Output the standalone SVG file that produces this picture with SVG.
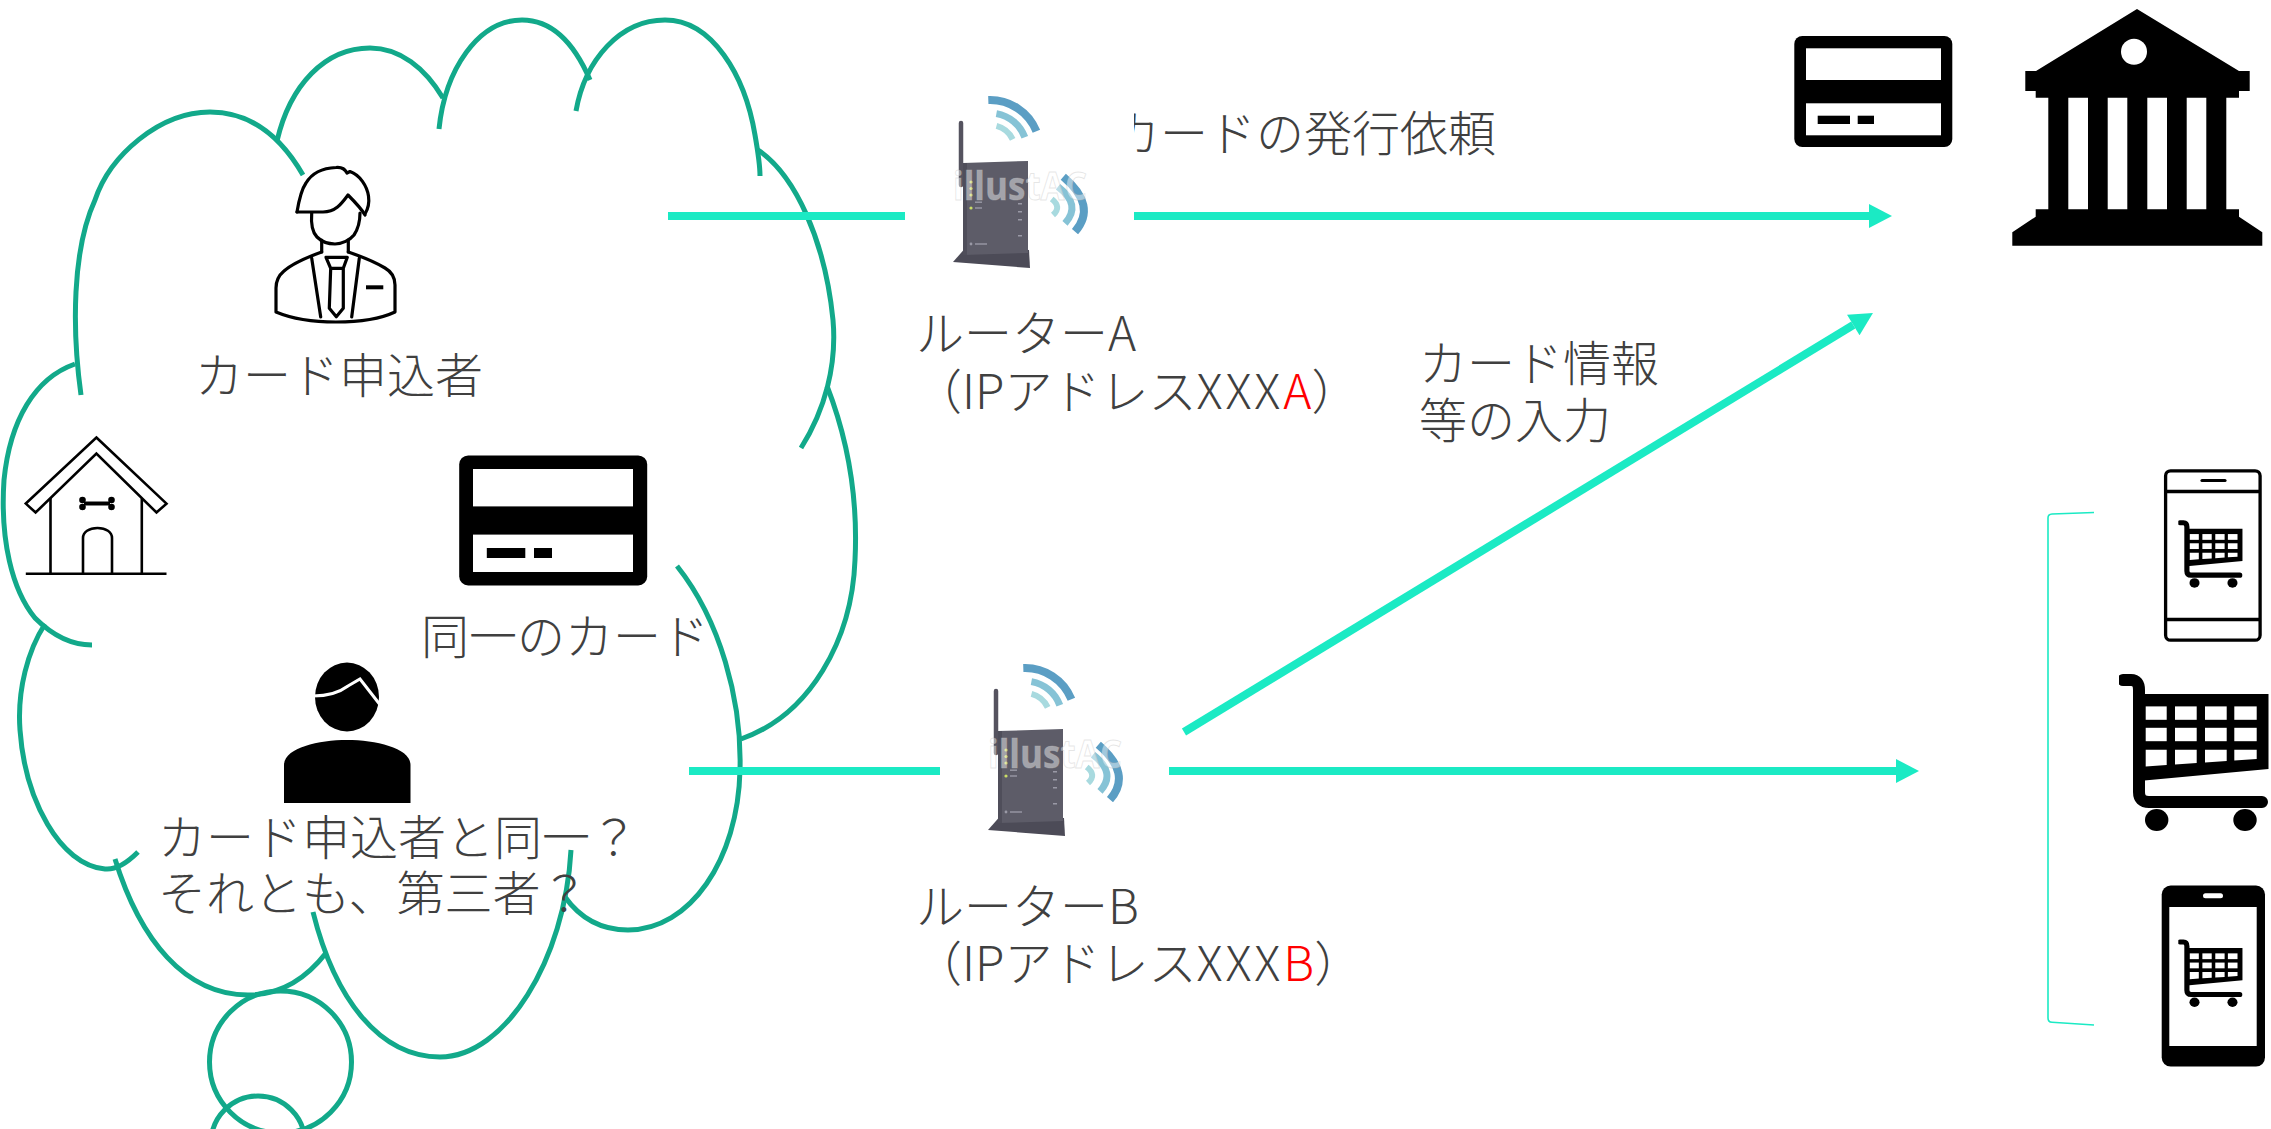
<svg xmlns="http://www.w3.org/2000/svg" xmlns:xlink="http://www.w3.org/1999/xlink" width="2271" height="1129" viewBox="0 0 2271 1129">
  <style>
    .cloud{fill:none;stroke:#12A98A;stroke-width:5}
    .link{fill:none;stroke:#1BEAC4;stroke-width:8}
    .lbl{font-family:'Noto Sans CJK JP','Noto Sans',sans-serif;font-size:48px;font-weight:300;fill:#404040}
    .lat{letter-spacing:3px}
    .red{fill:#FF0000}
    .ico{fill:none;stroke:#000;stroke-width:3.2;stroke-linejoin:round;stroke-linecap:round}
    .wm{font-family:'Open Sans','Noto Sans',sans-serif;font-size:40px;font-weight:700;fill:#ffffff;fill-opacity:.45;stroke:#b8b8b8;stroke-opacity:.35;stroke-width:1}
  </style>
  <defs>
    <marker id="head" markerUnits="userSpaceOnUse" markerWidth="24" markerHeight="24" viewBox="0 0 23 24" refX="0" refY="12" orient="auto">
      <path d="M0,0 L23,12 L0,24 Z" fill="#1BEAC4"/>
    </marker>
    <!-- shopping cart glyph -->
    <symbol id="cart" viewBox="0 0 150 162">
      <path d="M4,10 H12 Q20,10 20,20 V122 Q20,132 30,132 H143" fill="none" stroke="#000" stroke-width="12" stroke-linecap="round"/>
      <polygon points="20,24 149.5,24 149.5,99 20,111" fill="#000"/>
      <g fill="#fff">
        <rect x="26.7" y="36.4" width="21" height="13.4"/>
        <rect x="56" y="36.4" width="21.7" height="13.4"/>
        <rect x="86" y="36.4" width="21.7" height="13.4"/>
        <rect x="115.3" y="36.4" width="22.4" height="13.4"/>
        <rect x="26.7" y="57.8" width="21" height="13.4"/>
        <rect x="56" y="57.8" width="21.7" height="13.4"/>
        <rect x="86" y="57.8" width="21.7" height="13.4"/>
        <rect x="115.3" y="57.8" width="22.4" height="13.4"/>
        <polygon points="26.7,79.7 47.7,79.7 47.7,95.1 26.7,96.5"/>
        <polygon points="56,79.7 77.7,79.7 77.7,93.1 56,94.5"/>
        <polygon points="86,79.7 107.7,79.7 107.7,91.1 86,92.5"/>
        <polygon points="115.3,79.7 137.7,79.7 137.7,89 115.3,90.5"/>
      </g>
      <ellipse cx="37.7" cy="150" rx="11.7" ry="11"/>
      <ellipse cx="126" cy="150" rx="11.7" ry="11"/>
    </symbol>
    <!-- wireless router artwork on its white tile -->
    <g id="router-art">
      <rect x="0" y="0" width="229" height="200" fill="#fff"/>
      <line x1="56" y1="38" x2="56" y2="100" stroke="#55535f" stroke-width="4.5" stroke-linecap="round"/>
      <polygon points="63,160 124,165 125,183 48,177" fill="#4c4b57"/>
      <path d="M58,78 L123,76 L123,168 L58,170 Z" fill="#5d5c68"/>
      <path d="M58,78 L62,78 L62,170 L58,170 Z" fill="#4f4e5a"/>
      <g fill="#c9dc66">
        <circle cx="66" cy="97" r="1.6"/>
        <circle cx="66" cy="103.5" r="1.6"/>
        <circle cx="66" cy="110" r="1.6"/>
        <circle cx="66" cy="123" r="1.6"/>
      </g>
      <g fill="#9a99a6">
        <rect x="113" y="118" width="4" height="1.5"/>
        <rect x="113" y="126" width="4" height="1.5"/>
        <rect x="113" y="134" width="4" height="1.5"/>
        <rect x="113" y="150" width="4" height="1.5"/>
        <circle cx="66" cy="159" r="1.4"/>
        <rect x="70" y="158.3" width="12" height="1.4"/>
        <rect x="70" y="116.5" width="7" height="1.4"/>
        <rect x="70" y="122.3" width="7" height="1.4"/>
      </g>
      <g fill="none" stroke-linecap="butt">
        <path d="M83.3,15 A50,50 0 0 1 131.4,46.3" stroke="#5b9ec4" stroke-width="8"/>
        <path d="M91.4,28.6 A37,37 0 0 1 119.8,52.3" stroke="#86c3d6" stroke-width="7"/>
        <path d="M91.5,40.9 A25,25 0 0 1 107.7,54.4" stroke="#a8dadf" stroke-width="6"/>
        <path d="M158.3,91.7 Q192.5,120.8 170,146.7" stroke="#5b9ec4" stroke-width="8"/>
        <path d="M153,101.7 Q176.9,120 160,138.3" stroke="#86c3d6" stroke-width="7"/>
        <path d="M146.7,114 Q157,122 148,130" stroke="#a8dadf" stroke-width="6"/>
      </g>
      <text class="wm" x="48" y="115" textLength="134" lengthAdjust="spacingAndGlyphs">illustAC</text>
    </g>
  </defs>

  <rect width="2271" height="1129" fill="#fff"/>

  <!-- thought cloud -->
  <g id="cloud">
    <path class="cloud" d="M81,395 C72,330 72,250 95,200 C110,155 160,112 210,112 C250,112 280,135 303,175"/>
    <path class="cloud" d="M277,141 C290,85 325,48 370,48 C400,48 425,68 443,98"/>
    <path class="cloud" d="M439,129 C445,70 478,20 522,20 C553,20 575,45 590,80"/>
    <path class="cloud" d="M576,111 C585,60 620,20 665,20 C712,20 745,75 755,135 C758,152 760,165 760,176"/>
    <path class="cloud" d="M758,150 C795,175 825,240 833,320 C837,365 825,410 801,448"/>
    <path class="cloud" d="M827,386 C848,440 858,500 855,560 C852,640 810,715 741,739"/>
    <path class="cloud" d="M677,566 C720,620 742,700 740,770 C738,860 690,930 628,930 C600,930 580,918 565,897"/>
    <path class="cloud" d="M571,850 C565,960 505,1057 440,1057 C380,1057 335,1000 313,912"/>
    <path class="cloud" d="M326,953 C305,980 280,995 248,995 C185,995 140,940 115,859"/>
    <path class="cloud" d="M138,852 C125,865 115,870 105,869 C60,865 25,800 20,730 C17,690 28,650 45,624"/>
    <path class="cloud" d="M75,364 C35,378 10,420 4,480 C0,540 12,590 35,618 C52,635 72,645 92,645"/>
    <circle class="cloud" cx="280.5" cy="1062" r="71"/>
    <circle class="cloud" cx="258" cy="1143" r="47"/>
  </g>

  <!-- card applicant -->
  <g id="applicant">
    <path class="ico" d="M297,212 C299,200 301,190 306,183 C312,173 323,168 336,167.5 C341,167 345,169 347,173 L350,171.5 C360,175 367,186 368.5,196 C369.5,203 368,209 365,214"/>
    <path class="ico" d="M297,212 H323 C336,212 342,203 348,195 C355,202 361,208 365,215"/>
    <path class="ico" d="M311.7,213 C311,222 312,232 317,237 C322,242 329,244 335,244 C342,244 350,240 354,235 C358,229 360,222 360,213"/>
    <path class="ico" d="M321.7,240 V252 M348.3,240 V252"/>
    <path class="ico" d="M321.7,252 C305,258 292,264 284,271 C278,276 276,282 276,288 V312 C295,320 315,322 336,322 C357,322 378,320 395,312 V285 C395,278 392,272 385,268 C375,262 360,256 348.3,252"/>
    <path class="ico" d="M311.7,258.3 L320.7,317 M359.3,258.3 L351.7,317"/>
    <path class="ico" d="M326,257.3 H347.3 L343.3,268.3 H330.7 Z M330.7,268.3 L329.3,308.3 L336.3,316.7 L343.3,308.3 L343.3,268.3"/>
    <path d="M366,287.3 H383.3" stroke="#000" stroke-width="4"/>
    <text class="lbl" x="195" y="393">カード申込者</text>
  </g>

  <!-- home -->
  <g id="house" fill="none" stroke="#000" stroke-width="2.6">
    <polygon points="96.4,437.5 166.5,503.6 156.5,512.5 96.4,453.6 35.6,512.5 25.8,503.6" stroke-linejoin="miter"/>
    <path d="M50.5,498 V573.8 M141.8,498.5 V573.8 M25.8,573.8 H166.5"/>
    <path d="M83,573.8 V538 C83,532 89,528 97.5,528 C106,528 112,532 112,538 V573.8"/>
    <path d="M84,503.5 H110" stroke-width="4"/>
    <g fill="#000" stroke="none">
      <circle cx="82.5" cy="500" r="3.3"/>
      <circle cx="82.5" cy="507" r="3.3"/>
      <circle cx="111.5" cy="500" r="3.3"/>
      <circle cx="111.5" cy="507" r="3.3"/>
    </g>
  </g>

  <!-- the shared card -->
  <g id="shared-card">
    <rect x="459.2" y="455.4" width="188" height="130" rx="9" fill="#000"/>
    <rect x="473" y="469" width="160" height="37.4" fill="#fff"/>
    <rect x="473" y="534.6" width="160" height="37.4" fill="#fff"/>
    <rect x="486.8" y="548" width="38.5" height="10" fill="#000"/>
    <rect x="534" y="548" width="18" height="10" fill="#000"/>
    <text class="lbl" x="421" y="654">同一のカード</text>
  </g>

  <!-- unknown user -->
  <g id="unknown-user">
    <ellipse cx="347" cy="697" rx="32" ry="34.5" fill="#000"/>
    <path d="M313,696 C330,696 340,692 348,686 L360,679 L381,706" fill="none" stroke="#fff" stroke-width="3"/>
    <path d="M284,803 V765 C284,748 318,740 347,740 C376,740 410.5,748 410.5,765 V803 Z" fill="#000"/>
    <text class="lbl" x="158" y="855">カード申込者と同一？<tspan x="158" dy="56">それとも、第三者？</tspan></text>
  </g>

  <!-- edge labels -->
  <g id="labels">
    <text class="lbl" x="1112" y="151">カードの発行依頼</text>
    <text class="lbl" x="1419" y="381">カード情報<tspan x="1419" dy="57">等の入力</tspan></text>
  </g>

  <!-- connectors -->
  <g id="connectors">
    <line class="link" x1="668" y1="216" x2="905" y2="216"/>
    <line class="link" x1="1134" y1="216" x2="1869" y2="216" marker-end="url(#head)"/>
    <line class="link" x1="689" y1="771" x2="940" y2="771"/>
    <line class="link" x1="1169" y1="771" x2="1896" y2="771" marker-end="url(#head)"/>
    <line class="link" x1="1184" y1="732" x2="1853.3" y2="325" marker-end="url(#head)"/>
    <path d="M2094,512.5 L2052,514 Q2048,514.2 2048,518 L2048,1018 Q2048,1022 2052,1022.3 L2094,1025" fill="none" stroke="#1BEAC4" stroke-width="1.6"/>
  </g>

  <!-- router A -->
  <g id="router-a">
    <use xlink:href="#router-art" href="#router-art" transform="translate(905,85)"/>
    <text class="lbl" x="916" y="351">ルーターA<tspan x="914" dy="58">（IPアドレス<tspan class="lat">XXX</tspan><tspan class="red">A</tspan>）</tspan></text>
  </g>

  <!-- router B -->
  <g id="router-b">
    <use xlink:href="#router-art" href="#router-art" transform="translate(940,653)"/>
    <text class="lbl" x="916" y="924">ルーターB<tspan x="914" dy="57">（IPアドレス<tspan class="lat">XXX</tspan><tspan class="red">B</tspan>）</tspan></text>
  </g>

  <!-- card issuer -->
  <g id="issuer-card">
    <rect x="1794.3" y="36" width="158" height="111" rx="8" fill="#000"/>
    <rect x="1806" y="48.3" width="135" height="31.7" fill="#fff"/>
    <rect x="1806" y="103.3" width="135" height="32" fill="#fff"/>
    <rect x="1817.7" y="115.7" width="32.3" height="8.3" fill="#000"/>
    <rect x="1857.7" y="115.7" width="16.3" height="8.3" fill="#000"/>
  </g>

  <!-- bank -->
  <g id="bank" fill="#000">
    <polygon points="2137,9 2239,71 2249.7,71 2249.7,91 2239,91 2239,97.7 2035.7,97.7 2035.7,91 2025.3,91 2025.3,71 2036,71"/>
    <circle cx="2134" cy="51.7" r="13" fill="#fff"/>
    <rect x="2048.3" y="97" width="20" height="113"/>
    <rect x="2088" y="97" width="19.7" height="113"/>
    <rect x="2127.3" y="97" width="20" height="113"/>
    <rect x="2167" y="97" width="19.7" height="113"/>
    <rect x="2206.3" y="97" width="20" height="113"/>
    <polygon points="2035.7,209.3 2239,209.3 2239,216.7 2262.3,232.3 2262.3,245.7 2012.3,245.7 2012.3,232.3 2035.7,216.7"/>
  </g>

  <!-- shop on a phone -->
  <g id="phone-shop">
    <rect x="2165.6" y="470.8" width="94.5" height="169.4" rx="5" fill="none" stroke="#000" stroke-width="3.3"/>
    <path d="M2165.6,491.5 H2260 M2165.6,619.5 H2260" stroke="#000" stroke-width="3.3"/>
    <path d="M2202,480.5 H2225" stroke="#000" stroke-width="3.2" stroke-linecap="round"/>
    <use xlink:href="#cart" href="#cart" x="2178.3" y="518.4" width="64.5" height="69.7"/>
  </g>

  <!-- web shop -->
  <g id="cart-shop">
    <use xlink:href="#cart" href="#cart" x="2119" y="670" width="150" height="162"/>
  </g>

  <!-- shop on a tablet -->
  <g id="tablet-shop">
    <rect x="2161.7" y="885.6" width="103.3" height="181" rx="9" fill="#000"/>
    <rect x="2169.3" y="907" width="87.4" height="139" fill="#fff"/>
    <rect x="2203" y="893.3" width="20" height="5" rx="2.5" fill="#fff"/>
    <use xlink:href="#cart" href="#cart" x="2178.3" y="937.7" width="64.5" height="69.7"/>
  </g>
</svg>
